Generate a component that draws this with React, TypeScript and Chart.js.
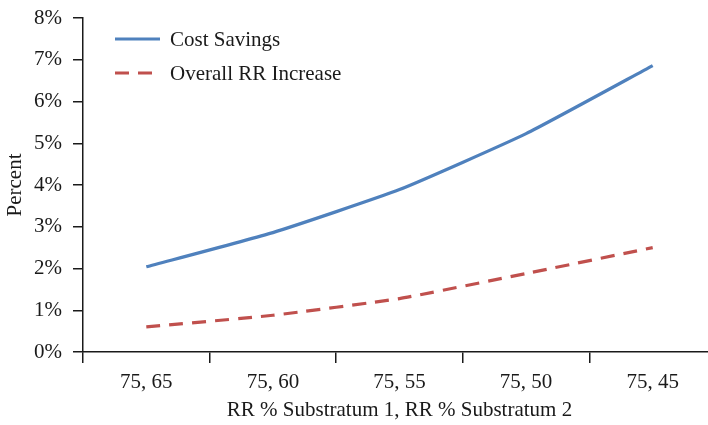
import React, { useEffect, useRef } from "react";
import { Chart, registerables } from "chart.js";

Chart.register(...registerables);

const categories = ["75, 65", "75, 60", "75, 55", "75, 50", "75, 45"];
const costSavings = [2.04, 2.86, 3.89, 5.23, 6.86];
const overallRRIncrease = [0.6, 0.88, 1.28, 1.88, 2.5];
const yTicks = [0, 1, 2, 3, 4, 5, 6, 7, 8];

const FONT = "'Liberation Serif', 'Times New Roman', serif";
const FS = 21;
const BLUE = "#4f81bd";
const RED = "#c0504d";
const INK = "#1a1a1a";

const legendPlugin = {
  id: "insideLegend",
  afterDraw(chart: any) {
    const ctx = chart.ctx;
    const items = [
      { ds: chart.data.datasets[0], y: 39, x0: 115, x1: 160 },
      { ds: chart.data.datasets[1], y: 73, x0: 115, x1: 158 },
    ];
    ctx.save();
    for (const it of items) {
      ctx.beginPath();
      ctx.strokeStyle = it.ds.borderColor;
      ctx.lineWidth = it.ds.borderWidth;
      ctx.setLineDash(it.ds.borderDash || []);
      ctx.moveTo(it.x0, it.y);
      ctx.lineTo(it.x1, it.y);
      ctx.stroke();
      ctx.setLineDash([]);
      ctx.fillStyle = INK;
      ctx.font = `${FS}px ${FONT}`;
      ctx.textBaseline = "middle";
      ctx.textAlign = "left";
      ctx.fillText(it.ds.label, 170, it.y + 1);
    }
    ctx.restore();
  },
};

export default function App() {
  const ref = useRef<HTMLCanvasElement | null>(null);
  useEffect(() => {
    document.body.style.overflow = "hidden";
    const chart = new Chart(ref.current as HTMLCanvasElement, {
      type: "line",
      data: {
        labels: categories,
        datasets: [
          {
            label: "Cost Savings",
            data: costSavings,
            borderColor: BLUE,
            backgroundColor: BLUE,
            borderWidth: 3.2,
            pointRadius: 0,
            tension: 0.15,
          },
          {
            label: "Overall RR Increase",
            data: overallRRIncrease,
            borderColor: RED,
            backgroundColor: RED,
            borderWidth: 3.2,
            borderDash: [14, 9],
            pointRadius: 0,
            tension: 0.15,
          },
        ],
      },
      options: {
        animation: false,
        responsive: false,
        maintainAspectRatio: false,
        layout: { padding: { top: 18, right: 0, left: 0, bottom: 0 } },
        plugins: {
          legend: { display: false },
          tooltip: { enabled: false },
        },
        scales: {
          x: {
            type: "category",
            offset: true,
            grid: {
              offset: true,
              drawOnChartArea: false,
              drawTicks: true,
              tickLength: 11,
              color: INK,
              lineWidth: 1.5,
            },
            border: { color: INK, width: 1.5 },
            ticks: {
              color: INK,
              font: { family: FONT, size: FS },
              padding: 7,
              maxRotation: 0,
            },
            title: {
              display: true,
              text: "RR % Substratum 1, RR % Substratum 2",
              color: INK,
              font: { family: FONT, size: FS },
              padding: { top: 2, bottom: 2 },
            },
            afterFit(scale: any) {
              scale.height = 73;
              scale.paddingLeft = 0;
              scale.paddingRight = 0;
            },
          },
          y: {
            min: 0,
            max: 8,
            afterBuildTicks(scale: any) {
              scale.ticks = yTicks.map((v) => ({ value: v }));
            },
            grid: {
              drawOnChartArea: false,
              drawTicks: true,
              tickLength: 10,
              color: INK,
              lineWidth: 1.5,
            },
            border: { color: INK, width: 1.5 },
            ticks: {
              color: INK,
              font: { family: FONT, size: FS },
              padding: 11,
              callback: (v: any) => `${v}%`,
            },
            title: {
              display: true,
              text: "Percent",
              color: INK,
              font: { family: FONT, size: FS },
              padding: { top: 3, bottom: 4 },
            },
            afterFit(scale: any) {
              scale.width = 83;
              scale.paddingTop = 0;
              scale.paddingBottom = 0;
            },
          },
        },
      },
      plugins: [legendPlugin],
    });
    return () => chart.destroy();
  }, []);
  return (
    <div style={{ position: "absolute", left: 0, top: 0, width: 716, height: 425 }}>
      <canvas ref={ref} width={716} height={425} style={{ display: "block" }} />
    </div>
  );
}
